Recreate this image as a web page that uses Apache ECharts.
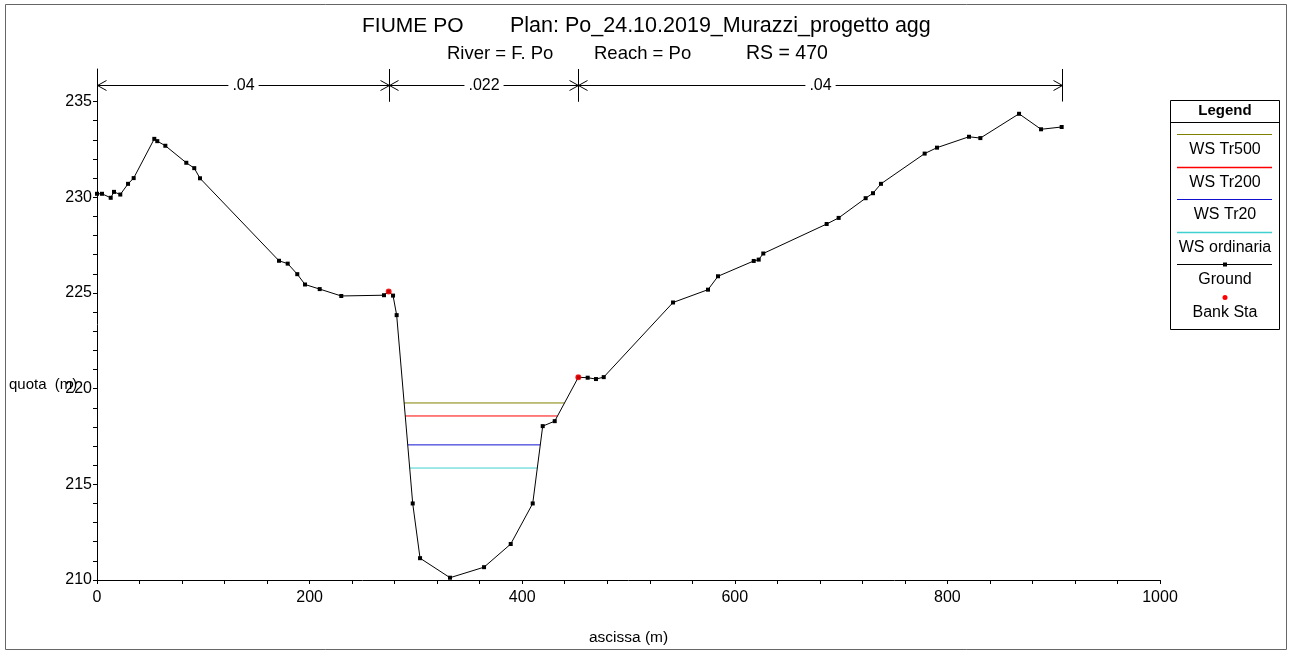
<!DOCTYPE html>
<html>
<head>
<meta charset="utf-8">
<script src="https://cdn.jsdelivr.net/npm/echarts@6/dist/echarts.min.js"></script>
<style>
  html, body { margin: 0; background: #fff; }
  #chart { width: 1289px; height: 651px; }
</style>
</head>
<body>
<div id="chart"></div>
<script>
// ground profile: station (m) and elevation (m)
var groundX = [0, 4.7, 12.9, 16, 21.9, 29.2, 34.5, 53.9, 56.7, 64.3, 84, 91.5, 96.9,
  171.2, 179.4, 188.4, 195.7, 209.5, 229.8, 270, 274.4, 278.5, 281.9, 297, 303.9,
  332.1, 364.1, 389.2, 409.9, 419.3, 430.6, 452.8, 461.6, 469.4, 476.7, 541.9,
  574.8, 584.2, 617.8, 622.5, 626.8, 686.4, 697.7, 723.1, 730, 737.5, 778.6,
  790.2, 820.3, 831, 867.4, 888.1, 907.5]
var groundY = [230.18, 230.18, 229.97, 230.28, 230.14, 230.7, 231.0, 233.05, 232.93,
  232.69, 231.8, 231.52, 230.99, 226.68, 226.53, 225.98, 225.44, 225.2, 224.84,
  224.88, 225.07, 224.86, 223.84, 214.0, 211.14, 210.12, 210.67, 211.88, 214.0,
  218.04, 218.3, 220.59, 220.57, 220.5, 220.6, 224.5, 225.17, 225.87, 226.67,
  226.74, 227.06, 228.6, 228.92, 229.95, 230.21, 230.7, 232.28, 232.59, 233.16,
  233.09, 234.36, 233.55, 233.67]

// bank stations
var bankX = [274.4, 452.8]
var bankY = [225.07, 220.59]

// water surfaces
var wsNames = ['WS Tr500', 'WS Tr200', 'WS Tr20', 'WS ordinaria']
var wsLevels = [219.25, 218.57, 217.06, 215.85]
var wsColors = ['#808000', '#ff0000', '#1010d0', '#40d0d0']

// manning's n
var nBounds = [0, 274.4, 452.8, 907.5]
var nValues = ['.04', '.022', '.04']

// axes
var xTickLabels = [0, 200, 400, 600, 800, 1000]
var yTickLabels = [210, 215, 220, 225, 230, 235]
var yMax = 236.7

var FONT = '"Liberation Sans", Arial, sans-serif'

var xTicks = []
for (var v = 0; v <= 1000; v += 40) xTicks.push(v)
var yTicks = []
for (var w = 210; w <= 235; w++) yTicks.push(w)

// where a water level meets the ground inside the main channel
function wsExtent(level) {
  var i0 = groundX.indexOf(bankX[0])
  var i1 = groundX.indexOf(bankX[1])
  var left = null
  var right = null
  for (var i = i0; i < i1; i++) {
    var a = groundY[i]
    var b = groundY[i + 1]
    var dx = groundX[i + 1] - groundX[i]
    if (left === null && a >= level && b < level) left = groundX[i] + (a - level) / (a - b) * dx
    if (a < level && b >= level) right = groundX[i] + (level - a) / (b - a) * dx
  }
  return [left, right]
}

var series = wsLevels.map(function (lv, i) {
  var ext = wsExtent(lv)
  return {
    name: wsNames[i],
    type: 'line',
    data: [[ext[0], lv], [ext[1], lv]],
    symbol: 'none',
    lineStyle: { color: wsColors[i], width: 1 },
    z: 2
  }
})

series.push({
  name: 'Ground',
  type: 'line',
  data: groundX.map(function (x, i) { return [x, groundY[i]] }),
  symbol: 'rect',
  symbolSize: 4,
  itemStyle: { color: '#000' },
  lineStyle: { color: '#000', width: 1 },
  z: 3
})

series.push({
  name: 'Bank Sta',
  type: 'scatter',
  data: bankX.map(function (x, i) { return [x, bankY[i]] }),
  symbol: 'circle',
  symbolSize: 6,
  itemStyle: { color: '#ff0000' },
  z: 4
})

series.push({
  name: 'n',
  type: 'custom',
  data: nValues.map(function (n, i) { return [nBounds[i], nBounds[i + 1], i] }),
  encode: { x: [0, 1] },
  renderItem: function (params, api) {
    var x0 = api.value(0)
    var x1 = api.value(1)
    var top = api.coord([x0, yMax])[1]
    var base = api.coord([x0, 235])[1]
    var y = Math.round((top + base) / 2) + 0.5
    var a = Math.round(api.coord([x0, 235])[0]) + 0.5
    var b = Math.round(api.coord([x1, 235])[0]) + 0.5
    var st = { stroke: '#000', lineWidth: 1, fill: null }
    return {
      type: 'group',
      children: [
        { type: 'line', shape: { x1: a, y1: top, x2: a, y2: base }, style: st },
        { type: 'line', shape: { x1: b, y1: top, x2: b, y2: base }, style: st },
        { type: 'line', shape: { x1: a, y1: y, x2: b, y2: y }, style: st },
        { type: 'polyline', shape: { points: [[a + 9, y - 5], [a, y], [a + 9, y + 5]] }, style: st },
        { type: 'polyline', shape: { points: [[b - 9, y - 5], [b, y], [b - 9, y + 5]] }, style: st },
        {
          type: 'text',
          style: {
            text: nValues[api.value(2)], x: (a + b) / 2, y: y,
            align: 'center', verticalAlign: 'middle',
            fontSize: 16, fontFamily: FONT, fill: '#000',
            backgroundColor: '#fff', padding: [0, 4]
          }
        }
      ]
    }
  },
  z: 5
})

// legend drawn as a boxed key, sample line above the label
var legendG = [
  { type: 'rect', shape: { x: 1170.5, y: 100.5, width: 109, height: 229 }, style: { fill: '#fff', stroke: '#000', lineWidth: 1 } },
  { type: 'text', x: 1225, y: 111, style: { text: 'Legend', align: 'center', verticalAlign: 'middle', fontSize: 15, fontWeight: 'bold', fontFamily: FONT, fill: '#000' } },
  { type: 'line', shape: { x1: 1170, y1: 122.5, x2: 1280, y2: 122.5 }, style: { stroke: '#000', lineWidth: 1 } }
]
var legendNames = wsNames.concat(['Ground', 'Bank Sta'])
legendNames.forEach(function (name, i) {
  var ly = Math.round(134 + i * 32.5) + 0.5
  if (i < 4) {
    legendG.push({ type: 'line', shape: { x1: 1177, y1: ly, x2: 1272, y2: ly }, style: { stroke: wsColors[i], lineWidth: i === 1 || i === 3 ? 1.5 : 1 } })
  } else if (i === 4) {
    legendG.push({ type: 'line', shape: { x1: 1177, y1: ly, x2: 1272, y2: ly }, style: { stroke: '#000', lineWidth: 1 } })
    legendG.push({ type: 'rect', shape: { x: 1223, y: ly - 2, width: 4, height: 4 }, style: { fill: '#000' } })
  } else {
    legendG.push({ type: 'circle', shape: { cx: 1225, cy: ly, r: 2.5 }, style: { fill: '#ff0000' } })
  }
  legendG.push({ type: 'text', x: 1225, y: ly + 15, style: { text: name, align: 'center', verticalAlign: 'middle', fontSize: 16, fontFamily: FONT, fill: '#000' } })
})

function label(text, x, y, size, align) {
  return { type: 'text', x: x, y: y, style: { text: text, align: align || 'left', verticalAlign: 'middle', fontSize: size, fontFamily: FONT, fill: '#000' } }
}

var chart = echarts.init(document.getElementById('chart'))
chart.setOption({
  animation: false,
  backgroundColor: '#fff',
  grid: { left: 97, right: 129, top: 69, bottom: 65 },
  xAxis: {
    type: 'value',
    min: 0,
    max: 1000,
    name: 'ascissa (m)',
    nameLocation: 'middle',
    nameGap: 50,
    nameTextStyle: { fontSize: 15.5, fontFamily: FONT, color: '#000' },
    axisLine: { lineStyle: { color: '#000', width: 1 } },
    axisTick: { customValues: xTicks, length: 4, lineStyle: { color: '#000' } },
    axisLabel: { customValues: xTickLabels, formatter: function (v) { return String(v) }, fontSize: 16, fontFamily: FONT, color: '#000', margin: 10 },
    splitLine: { show: false }
  },
  yAxis: {
    type: 'value',
    min: 210,
    max: yMax,
    axisLine: { show: true, lineStyle: { color: '#000', width: 1 } },
    axisTick: { show: true, customValues: yTicks, length: 4, lineStyle: { color: '#000' } },
    axisLabel: { customValues: yTickLabels, fontSize: 16, fontFamily: FONT, color: '#000', margin: 5 },
    splitLine: { show: false }
  },
  graphic: [
    { type: 'rect', shape: { x: 5.5, y: 4.5, width: 1281, height: 645 }, style: { fill: null, stroke: '#666', lineWidth: 1 }, z: -1 },
    label('FIUME PO', 362, 26, 21),
    label('Plan: Po_24.10.2019_Murazzi_progetto agg', 510, 26, 21.5),
    label('River = F. Po', 447, 54, 18.5),
    label('Reach = Po', 594, 54, 18.5),
    label('RS = 470', 746, 54, 19.5),
    label('quota  (m)', 9, 385, 15)
  ].concat(legendG),
  series: series
})
</script>
</body>
</html>
